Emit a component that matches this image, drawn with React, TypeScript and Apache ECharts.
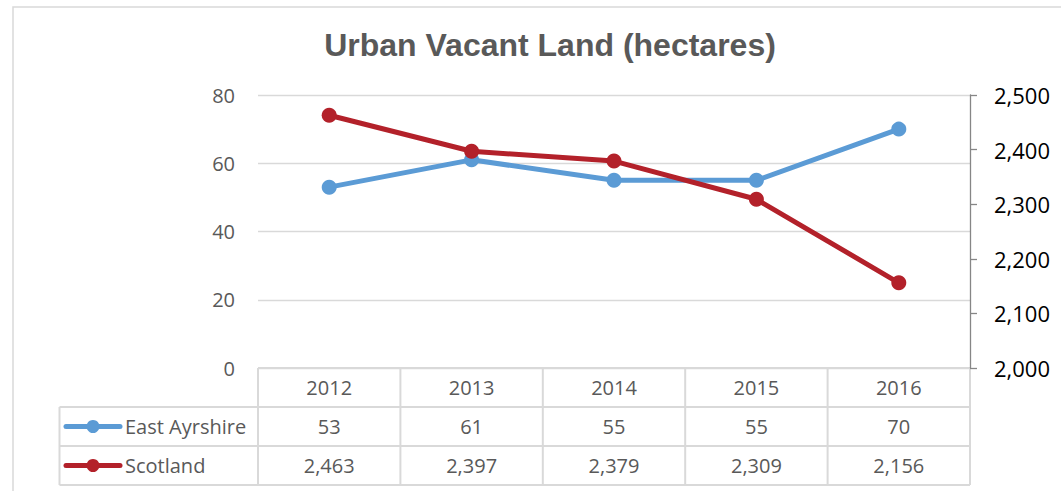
import React, { useEffect, useRef } from 'react';
import * as echarts from 'echarts';

const years = ['2012', '2013', '2014', '2015', '2016'];
const eastAyrshire = [53, 61, 55, 55, 70];
const scotland = [2463, 2397, 2379, 2309, 2156];
const seriesNames = ['East Ayrshire', 'Scotland'];
const seriesColors = ['#5b9bd5', '#b3212a'];
const titleText = 'Urban Vacant Land (hectares)';

const fmt = (v: number) => v.toLocaleString('en-US');

export default function App() {
  const ref = useRef<HTMLDivElement>(null);
  useEffect(() => {
    if (!ref.current) return;
    const chart = echarts.init(ref.current, null, { renderer: 'svg' });
    const gridTop = 95;
    const gridBottom = 123;
    chart.setOption({
      animation: false,
      backgroundColor: '#ffffff',
      title: {
        text: titleText,
        left: 545,
        textAlign: 'center',
        top: 24,
        textStyle: { fontFamily: 'Liberation Sans, Arial', fontWeight: 'bold', fontSize: 32, color: '#595959' },
      },
      grid: { left: 258, right: 91, top: gridTop, bottom: gridBottom },
      xAxis: {
        type: 'category',
        data: years,
        boundaryGap: true,
        axisLine: { show: false },
        axisTick: { show: false },
        axisLabel: { show: false },
      },
      yAxis: [
        {
          type: 'value',
          min: 0,
          max: 80,
          interval: 20,
          axisLine: { show: false },
          axisTick: { show: false },
          axisLabel: { margin: 23, fontFamily: 'Open Sans', fontSize: 20, color: '#595959' },
          splitLine: { lineStyle: { color: '#d9d9d9', width: 1.3 } },
        },
        {
          type: 'value',
          min: 2000,
          max: 2500,
          interval: 100,
          position: 'right',
          axisLine: { show: true, lineStyle: { color: '#868686', width: 1.3 } },
          axisTick: { show: true, length: 7, lineStyle: { color: '#868686', width: 1.3 } },
          axisLabel: { margin: 24, fontFamily: 'Open Sans', fontSize: 22, color: '#000000', formatter: (v: number) => fmt(v) },
          splitLine: { show: false },
        },
      ],
      series: [
        {
          name: seriesNames[0],
          type: 'line',
          data: eastAyrshire,
          yAxisIndex: 0,
          symbol: 'circle',
          symbolSize: 15,
          color: seriesColors[0],
          lineStyle: { width: 5, color: seriesColors[0] },
          itemStyle: { color: seriesColors[0] },
        },
        {
          name: seriesNames[1],
          type: 'line',
          data: scotland,
          yAxisIndex: 1,
          symbol: 'circle',
          symbolSize: 15,
          color: seriesColors[1],
          lineStyle: { width: 5, color: seriesColors[1] },
          itemStyle: { color: seriesColors[1] },
        },
      ],
    });

    // Build data table from the axis' own scale
    const centers = years.map((y) => chart.convertToPixel({ xAxisIndex: 0 }, y) as number);
    const band = centers.length > 1 ? centers[1] - centers[0] : 100;
    const tableLeft = centers[0] - band / 2;
    const tableRight = centers[centers.length - 1] + band / 2;
    const legendLeft = 59.5;
    const top0 = 491 - gridBottom;
    const rowH = 39;
    const rows = [top0, top0 + rowH, top0 + 2 * rowH, top0 + 3 * rowH];
    const lineStyle = { stroke: '#d9d9d9', lineWidth: 2 };
    const textStyleBase = { fontFamily: 'Open Sans', fontSize: 20, fill: '#595959', textAlign: 'center', textVerticalAlign: 'middle' };
    const els: any[] = [];
    els.push({ type: 'rect', shape: { x: 13, y: 7, width: 1200, height: 700 }, style: { fill: 'none', stroke: '#d9d9d9', lineWidth: 1.5 }, silent: true, z: -10 });
    els.push({ type: 'line', shape: { x1: tableLeft, y1: rows[0], x2: tableRight, y2: rows[0] }, style: lineStyle });
    for (let i = 1; i < 4; i++) {
      els.push({ type: 'line', shape: { x1: legendLeft, y1: rows[i], x2: tableRight, y2: rows[i] }, style: lineStyle });
    }
    els.push({ type: 'line', shape: { x1: legendLeft, y1: rows[1], x2: legendLeft, y2: rows[3] }, style: lineStyle });
    for (let i = 0; i <= years.length; i++) {
      const x = tableLeft + band * i;
      els.push({ type: 'line', shape: { x1: x, y1: rows[0], x2: x, y2: rows[3] }, style: lineStyle });
    }
    const mid = (i: number) => (rows[i] + rows[i + 1]) / 2;
    years.forEach((y, i) => {
      els.push({ type: 'text', x: centers[i], y: mid(0), style: { ...textStyleBase, text: y } });
      els.push({ type: 'text', x: centers[i], y: mid(1), style: { ...textStyleBase, text: fmt(eastAyrshire[i]) } });
      els.push({ type: 'text', x: centers[i], y: mid(2), style: { ...textStyleBase, text: fmt(scotland[i]) } });
    });
    seriesNames.forEach((name, i) => {
      const cy = mid(i + 1);
      els.push({ type: 'line', shape: { x1: 66, y1: cy, x2: 120, y2: cy }, style: { stroke: seriesColors[i], lineWidth: 5, lineCap: 'round' } });
      els.push({ type: 'circle', shape: { cx: 93, cy, r: 6.5 }, style: { fill: seriesColors[i] } });
      els.push({ type: 'text', x: 125, y: cy, style: { ...textStyleBase, textAlign: 'left', text: name } });
    });
    chart.setOption({ graphic: { elements: els } });

    return () => chart.dispose();
  }, []);
  return <div ref={ref} style={{ position: 'fixed', left: 0, top: 0, width: 1061, height: 491 }} />;
}
